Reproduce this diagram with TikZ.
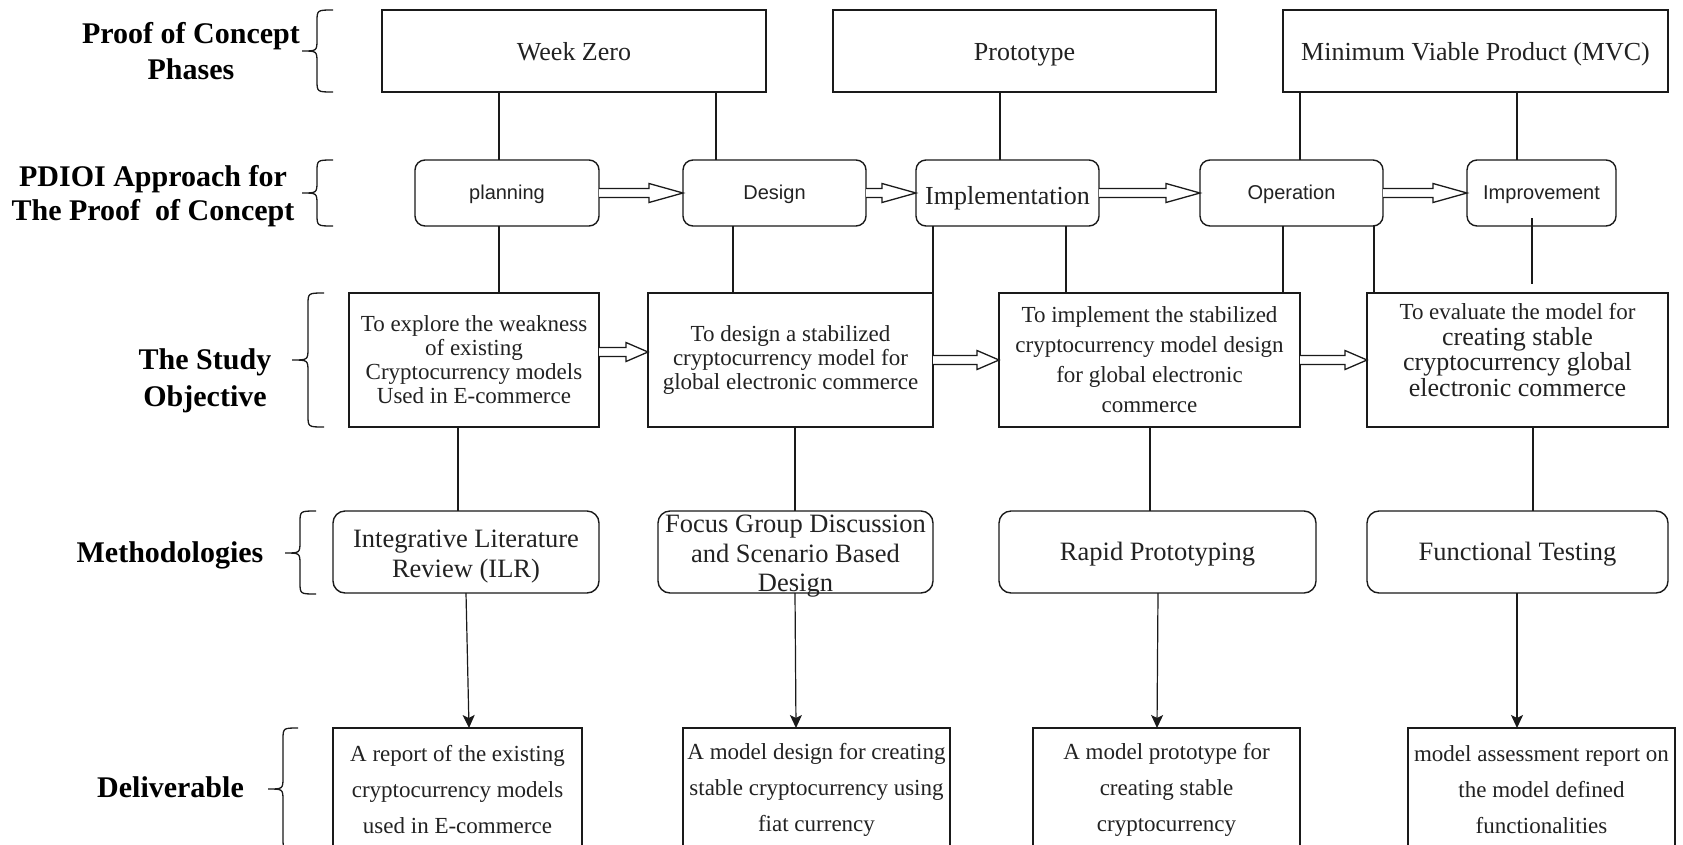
\documentclass[tikz,border=0pt]{standalone}
\usepackage{fontspec}
\setmainfont{Liberation Serif}
\newfontfamily\sansf{Liberation Sans}
\usetikzlibrary{arrows.meta,calc}

\definecolor{ink}{HTML}{1A1A1A}
\definecolor{txt}{HTML}{222222}

\tikzset{
  every node/.style={inner sep=0pt, outer sep=0pt, text=txt},
  framebox/.style={draw=ink, line width=1.4pt, fill=white},
  phasebox/.style={framebox, text height=24pt, text depth=5pt, minimum height=82pt, font=\fontsize{26}{30}\selectfont},
  stepbox/.style={framebox, text height=16pt, text depth=4pt, rounded corners=10pt, minimum height=66pt, font=\sansf\fontsize{20}{24}\selectfont},
  objbox/.style={framebox, minimum height=134pt, align=center, font=\fontsize{23}{24}\selectfont},
  methbox/.style={framebox, rounded corners=12pt, minimum height=82pt, align=center, font=\fontsize{26.5}{30}\selectfont},
  methline/.style={text height=21pt, text depth=5pt},
  delbox/.style={framebox, minimum height=124pt, align=center, font=\fontsize{23}{36}\selectfont},
  rowlabel/.style={align=center, text=black, font=\fontsize{30}{35.5}\selectfont\bfseries},
  link/.style={draw=ink, line width=2.6pt},
  feed/.style={draw=ink, line width=1.2pt, -{Stealth[length=13pt,width=12pt,inset=3pt]}},
  hollow/.style={draw=ink, line width=1.3pt, fill=white, line join=miter},
  bracket/.style={draw=ink, line width=1.3pt},
}

% open double-line arrow: start point, end point, head length
\newcommand{\hollowarrow}[3]{%
  \draw[hollow] let \p1=(#1), \p2=(#2) in
    (\x1,\y1+4.5pt) -- (\x2-#3,\y1+4.5pt) -- (\x2-#3,\y1+9.5pt) -- (\x2,\y1)
    -- (\x2-#3,\y1-9.5pt) -- (\x2-#3,\y1-4.5pt) -- (\x1,\y1-4.5pt);
}

% curly bracket: right x, spine x, tip x, top y, middle y, bottom y
\newcommand{\curly}[6]{%
  \draw[bracket] (#1,#4) .. controls (#2,#4) .. (#2,#4+12) -- (#2,#5-12)
    .. controls (#2,#5) .. (#3,#5) .. controls (#2,#5) .. (#2,#5+12)
    -- (#2,#6-12) .. controls (#2,#6) .. (#1,#6);
}

% extra room above a first line of text
\newcommand{\topstrut}{\rule{0pt}{27pt}}

\begin{document}
\begin{tikzpicture}[x=1pt, y=-1pt]
  \useasboundingbox (0,0) rectangle (1683,844);
  \fill[white] (0,0) rectangle (1683,844);
  \clip (0,0) rectangle (1683,844);

  % row labels
  \node[rowlabel] (lphase) at (191,51) {Proof of Concept\\Phases};
  \node[rowlabel, font=\fontsize{30}{34}\selectfont\bfseries] (lpdioi) at (153,196.5) {PDIOI Approach for\\The Proof\ \ of Concept};
  \node[rowlabel, font=\fontsize{30}{37}\selectfont\bfseries] (lobj) at (205,380.5) {The Study\\Objective};
  \node[rowlabel] (lmeth) at (170,555.5) {Methodologies};
  \node[rowlabel] (ldel) at (170.5,787) {Deliverable};

  % brackets
  \curly{333}{317}{302}{10}{51}{92}
  \curly{333}{317}{302}{160}{193}{226}
  \curly{324}{308}{292}{293}{360}{427}
  \curly{316}{300}{285}{511}{553}{594}
  \curly{298}{283}{268}{728}{789}{850}

  % proof of concept phases
  \node[phasebox, minimum width=384pt] (wz) at (574,51) {Week Zero};
  \node[phasebox, minimum width=383pt] (proto) at (1024.5,51) {Prototype};
  \node[phasebox, minimum width=385pt] (mvc) at (1475.5,51) {Minimum Viable Product (MVC)};

  % PDIOI steps
  \node[stepbox, minimum width=184pt] (plan) at (507,193) {planning};
  \node[stepbox, minimum width=183pt] (des) at (774.5,193) {Design};
  \node[stepbox, minimum width=183pt, font=\rmfamily\fontsize{26}{30}\selectfont,
        text height=26pt, text depth=3pt] (impl) at (1007.5,193) {Implementation};
  \node[stepbox, minimum width=183pt] (oper) at (1291.5,193) {Operation};
  \node[stepbox, minimum width=149pt] (impr) at (1541.5,193) {Improvement};

  % study objectives
  \node[objbox, minimum width=250pt] (obj1) at (474,360)
    {To explore the weakness\\of existing\\Cryptocurrency models\\Used in E-commerce};
  \node[objbox, minimum width=285pt] (obj2) at (790.5,360)
    {To design a stabilized\\cryptocurrency model for\\global electronic commerce};
  \node[objbox, minimum width=301pt, font=\fontsize{23}{30}\selectfont] (obj3) at (1149.5,360)
    {To implement the stabilized\\cryptocurrency model design\\for global electronic\\commerce};
  \node[objbox, minimum width=301pt] (obj4) at (1517.5,360) {};
  \node[align=center, font=\fontsize{26}{25.5}\selectfont] (obj4text) at (1517.5,350)
    {{\fontsize{23}{25.5}\selectfont To evaluate the model for}\\creating stable\\cryptocurrency global\\electronic commerce};

  % methodologies
  \node[methbox, minimum width=266pt] (m1) at (466,552) {\topstrut Integrative Literature\\Review (ILR)};
  \node[methbox, minimum width=275pt] (m2) at (795.5,552) {};
  \node[align=center, font=\fontsize{26.5}{29.5}\selectfont] (m2text) at (795.5,556.5)
    {Focus Group Discussion\\and Scenario Based\\Design};
  \node[methbox, methline, minimum width=317pt] (m3) at (1157.5,552) {Rapid Prototyping};
  \node[methbox, methline, minimum width=301pt] (m4) at (1517.5,552) {Functional Testing};

  % deliverables
  \node[delbox, minimum width=249pt] (d1) at (457.5,790)
    {A report of the existing\\cryptocurrency models\\used in E-commerce};
  \node[delbox, minimum width=267pt] (d2) at (816.5,790)
    {A model design for creating\\stable cryptocurrency using\\fiat currency};
  \node[delbox, minimum width=267pt] (d3) at (1166.5,790)
    {A model prototype for\\creating stable\\cryptocurrency};
  \node[delbox, minimum width=267pt] (d4) at (1541.5,790)
    {model assessment report on\\the model defined\\functionalities};

  % phases to steps
  \draw[link] (wz.south -| 499,0) -- (plan.north -| 499,0);
  \draw[link] (wz.south -| 716,0) -- (des.north -| 716,0);
  \draw[link] (proto.south -| 1000,0) -- (impl.north -| 1000,0);
  \draw[link] (mvc.south -| 1300,0) -- (oper.north -| 1300,0);
  \draw[link] (mvc.south -| 1517,0) -- (impr.north -| 1517,0);

  % steps to objectives
  \draw[link] (plan.south -| 499,0) -- (obj1.north -| 499,0);
  \draw[link] (des.south -| 733,0) -- (obj2.north -| 733,0);
  \draw[link] (impl.south -| 933,0) -- (obj2.north -| 933,0);
  \draw[link] (impl.south -| 1066,0) -- (obj3.north -| 1066,0);
  \draw[link] (oper.south -| 1283,0) -- (obj3.north -| 1283,0);
  \draw[link] (oper.south -| 1374,0) -- (obj4.north -| 1374,0);
  \coordinate (imprfoot) at ([yshift=8pt]impr.south);
  \coordinate (objfourhead) at ([yshift=9pt]obj4.north);
  \draw[link] (imprfoot -| 1532,0) -- (objfourhead -| 1532,0);

  % objectives to methodologies
  \draw[link] (obj1.south -| 458,0) -- (m1.north -| 458,0);
  \draw[link] (obj2.south -| 795,0) -- (m2.north -| 795,0);
  \draw[link] (obj3.south -| 1150,0) -- (m3.north -| 1150,0);
  \draw[link] (obj4.south -| 1533,0) -- (m4.north -| 1533,0);

  % methodologies to deliverables
  \draw[feed] (m1.south -| 466,0) -- (d1.north -| 469,0);
  \draw[feed] (m2.south -| 795,0) -- (d2.north -| 796,0);
  \draw[feed] (m3.south -| 1158,0) -- (d3.north -| 1157,0);
  \draw[feed] (m4.south -| 1517,0) -- (d4.north -| 1517,0);

  % step sequence
  \hollowarrow{plan.east}{des.west}{34pt}
  \hollowarrow{des.east}{impl.west}{34pt}
  \hollowarrow{impl.east}{oper.west}{34pt}
  \hollowarrow{oper.east}{impr.west}{34pt}

  % objective sequence
  \hollowarrow{[yshift=8pt]obj1.east}{[yshift=8pt]obj2.west}{22pt}
  \hollowarrow{obj2.east}{obj3.west}{22pt}
  \hollowarrow{obj3.east}{obj4.west}{22pt}
\end{tikzpicture}
\end{document}
